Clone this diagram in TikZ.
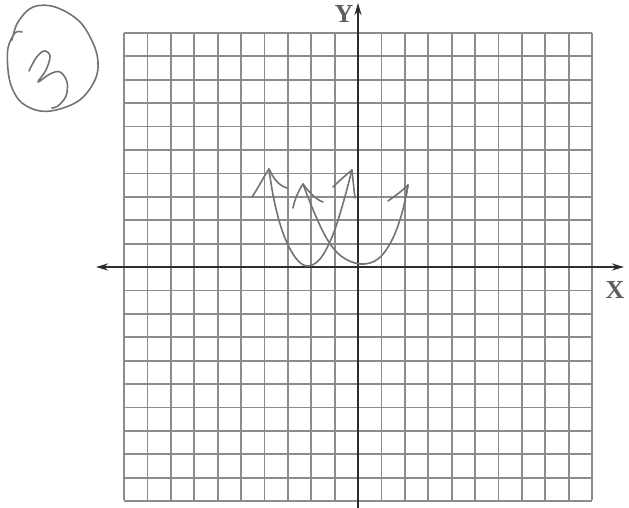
\documentclass[tikz,border=0pt]{standalone}
\usepackage{fontspec}
\setmainfont{Liberation Serif}
\usetikzlibrary{arrows.meta}
\definecolor{gridgray}{RGB}{140,140,140}
\definecolor{axisgray}{RGB}{45,45,45}
\definecolor{penGray}{RGB}{115,115,115}
\definecolor{labelgray}{RGB}{95,95,95}
\tikzset{
  gridline/.style={draw=gridgray, line width=1.8pt},
  axisline/.style={draw=axisgray, line width=2.2pt},
  axistip/.style={-{Stealth[length=12pt,width=7pt]}},
  pen/.style={draw=penGray, line width=1.6pt, line cap=round, line join=round},
  axislabel/.style={text=labelgray, font=\fontsize{26}{26}\selectfont\bfseries, inner sep=0pt}
}
\begin{document}
\begin{tikzpicture}[x=1pt,y=-1pt]
\useasboundingbox (0,0) rectangle (629,508);
% grid
\foreach \i in {0,...,20}{
  \draw[gridline] ({124+\i*23.4},33) -- ({124+\i*23.4},500);
  \draw[gridline] (124,{33+\i*23.4}) -- (592,{33+\i*23.4});
}
% axes
\coordinate (ybot) at (358,508);
\coordinate (ytop) at (358,3);
\coordinate (xleft) at (96,267);
\coordinate (xright) at (624,267);
\draw[axisline, axistip] (ybot) -- (ytop);
\draw[axisline, {Stealth[length=12pt,width=7pt]}-{Stealth[length=12pt,width=7pt]}] (xleft) -- (xright);
\node[axislabel] (ylab) at (344,14) {Y};
\node[axislabel] (xlab) at (615,290) {X};
% circled 3
\draw[pen] plot[smooth, tension=0.6] coordinates {(22,32) (15,33) (8,48) (8,70) (12,88) (22,103) (40,111) (60,109) (81,99) (95,80) (98,62) (93,43) (79,21) (55,7) (33,7) (18,22) (12,40)};
\draw[pen] plot[smooth, tension=0.6] coordinates {(29,71) (36,58) (44,51) (50,56) (46,70) (38,82) (50,74) (60,72) (67,82) (66,96) (58,106) (52,108)};
% curve 1
\draw[pen] plot[smooth, tension=0.6] coordinates {(269,169) (274,200) (283,233) (295,257) (307,266) (320,259) (332,237) (342,207) (352,170)};
\draw[pen] (252,197) .. controls (260,185) and (264,176) .. (269,169) .. controls (274,180) and (280,186) .. (287,188);
\draw[pen] (333,187) .. controls (340,180) and (346,175) .. (352,170) .. controls (353,180) and (354,190) .. (355,198);
% curve 2
\draw[pen] plot[smooth, tension=0.6] coordinates {(303,184) (314,212) (327,239) (341,256) (360,264) (378,259) (392,240) (402,213) (408,185)};
\draw[pen] (293,208) .. controls (295,198) and (299,190) .. (303,184) .. controls (309,192) and (315,199) .. (323,202);
\draw[pen] (388,201) .. controls (395,196) and (402,191) .. (408,185) -- (406,197);
\end{tikzpicture}
\end{document}
